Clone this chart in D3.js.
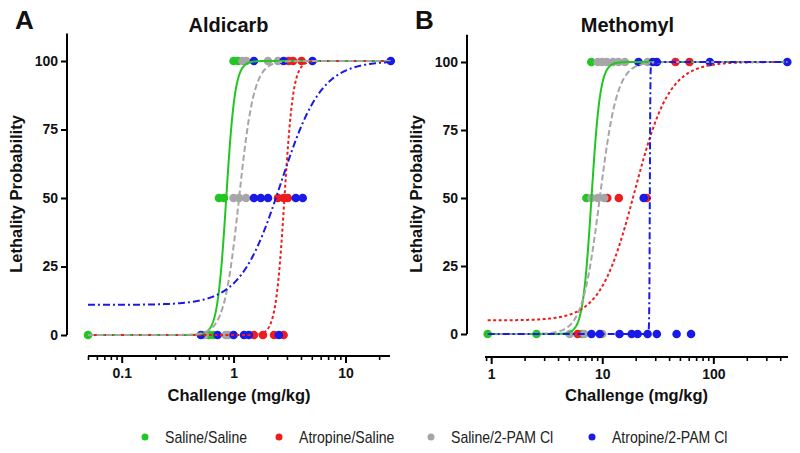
<!DOCTYPE html>
<html>
<head>
<meta charset="utf-8">
<script src="https://cdn.jsdelivr.net/npm/d3@7"></script>
<style>
  html, body { margin: 0; padding: 0; background: #fff; }
  svg { display: block; font-family: "Liberation Sans", Arial, sans-serif; }
</style>
</head>
<body>
<svg id="chart" width="800" height="453"></svg>
<script>
// ---------- DATA ----------
const groups = ["Saline/Saline", "Atropine/Saline", "Saline/2-PAM Cl", "Atropine/2-PAM Cl"];
const yTickValues = [0, 25, 50, 75, 100];

// Aldicarb observations: [dose mg/kg, lethality %]
const aldicarbSalineSaline = [[0.05,0],[0.6,0],[0.66,0],[0.74,50],[0.82,50],[1.0,100],[1.1,100]];
const aldicarbAtropineSaline = [[1.52,0],[1.83,0],[2.3,0],[2.8,0],[2.49,50],[2.8,50],[3.05,50],[3.1,100],[3.4,100],[4.05,100]];
const aldicarbSaline2PAM = [[0.55,0],[0.85,0],[0.9,0],[1.0,50],[1.12,50],[1.29,50],[1.2,100],[1.3,100],[2.03,100],[2.49,100]];
const aldicarbAtropine2PAM = [[0.51,0],[0.72,0],[1.0,0],[1.24,0],[1.37,0],[2.54,0],[1.52,50],[1.75,50],[2.03,50],[3.6,50],[4.15,50],[1.52,100],[2.8,100],[5.07,100],[25.4,100]];

// Methomyl observations
const methomylSalineSaline = [[0.93,0],[2.56,0],[6.6,0],[7.2,50],[7.96,100]];
const methomylAtropineSaline = [[6.0,0],[11.1,50],[14.1,50],[25.1,50],[45.6,100],[61,100]];
const methomylSaline2PAM = [[5.1,0],[6.9,0],[10,0],[8.0,50],[9.1,50],[10.4,50],[9.1,100],[10,100],[11,100],[12.5,100],[14,100],[16,100],[25.6,100]];
const methomylAtropine2PAM = [[8,0],[9.5,0],[14.3,0],[18.4,0],[20.8,0],[25.6,0],[31,0],[46.7,0],[63,0],[23.6,50],[21.2,100],[28.5,100],[31,100],[93,100],[463,100]];

// Fitted dose-response parameters: [bottom, top, EC50, Hill slope]
const aldicarbFits = [[0,100,0.86,11],[0,100,2.85,11],[0,100,1.12,6.5],[11,100,2.65,2.4]];
const methomylFits = [[0,100,8.0,11],[5,100,19.6,2.8],[0,100,9.5,5.5],[0,100,26.8,200]];

const aldicarbMajorTicks = [0.1, 1, 10];
const aldicarbMinorTicks = [0.05,0.06,0.07,0.08,0.09,0.2,0.3,0.4,0.5,0.6,0.7,0.8,0.9,2,3,4,5,6,7,8,9,20];
const methomylMajorTicks = [1, 10, 100];
const methomylMinorTicks = [0.9,2,3,4,5,6,7,8,9,20,30,40,50,60,70,80,90,200,300,400];

// ---------- STYLE ----------
const colors = ["#22c622", "#ee1d1d", "#a6a6a6", "#1a1ae8"];
const dashes = [null, "3,2.5", "6,3", "7,3,2,3"];

const svg = d3.select("#chart");

function panel(opts) {
  const g = svg.append("g");
  const x = d3.scaleLog().domain(opts.xDomain).range(opts.xRange);
  const y = d3.scaleLinear().domain([0, 110]).range([opts.y0, opts.y0 - (opts.y0 - opts.y100) * 1.1]);

  // y axis
  const yAxis = g.append("g").attr("transform", `translate(${opts.yAxisX},0)`)
    .call(d3.axisLeft(y).tickValues(yTickValues).tickSize(6).tickSizeOuter(0).tickPadding(3));
  yAxis.select(".domain").attr("stroke-width", 2).attr("d", `M0,${y(0)}V${y(110)}`);
  yAxis.selectAll(".tick line").attr("stroke-width", 2);
  yAxis.selectAll("text").attr("font-size", 14).attr("font-weight", "bold").attr("fill", "#111")
    .attr("font-family", "Liberation Sans, Arial, sans-serif");

  // x axis - minor
  const xMinor = g.append("g").attr("transform", `translate(0,${opts.xAxisY})`)
    .call(d3.axisBottom(x).tickValues(opts.minor).tickSize(4).tickSizeOuter(0).tickFormat(""));
  xMinor.select(".domain").remove();
  xMinor.selectAll(".tick line").attr("stroke-width", 1.6);
  // x axis - major
  const xMajor = g.append("g").attr("transform", `translate(0,${opts.xAxisY})`)
    .call(d3.axisBottom(x).tickValues(opts.major).tickSize(7).tickSizeOuter(0).tickPadding(5)
      .tickFormat(d => d < 1 ? String(d) : d3.format("d")(d)));
  xMajor.select(".domain").attr("stroke-width", 2).attr("d", `M${opts.xRange[0]},0H${opts.xRange[1]}`);
  xMajor.selectAll(".tick line").attr("stroke-width", 2);
  xMajor.selectAll("text").attr("font-size", 14).attr("font-weight", "bold").attr("fill", "#111")
    .attr("font-family", "Liberation Sans, Arial, sans-serif");

  // axis titles
  const cx = (opts.xRange[0] + opts.xRange[1]) / 2;
  g.append("text").attr("x", cx).attr("y", 401).attr("text-anchor", "middle")
    .attr("font-size", 16.5).attr("font-weight", "bold").attr("fill", "#111").text("Challenge (mg/kg)");
  g.append("text").attr("transform", `translate(${opts.yAxisX - 45},${(y(0) + y(100)) / 2 - 4}) rotate(-90)`)
    .attr("text-anchor", "middle").attr("font-size", 16.5).attr("font-weight", "bold").attr("fill", "#111")
    .text("Lethality Probability");
  g.append("text").attr("x", (opts.yAxisX + opts.xRange[1]) / 2).attr("y", 32).attr("text-anchor", "middle")
    .attr("font-size", 20).attr("font-weight", "bold").attr("fill", "#111").text(opts.title);
  g.append("text").attr("x", opts.yAxisX - 52).attr("y", 29)
    .attr("font-size", 26).attr("font-weight", "bold").attr("fill", "#111").text(opts.letter);

  // points
  opts.data.forEach((pts, i) => {
    g.append("g").selectAll("circle").data(pts).join("circle")
      .attr("cx", d => x(d[0])).attr("cy", d => y(d[1])).attr("r", 4.3)
      .attr("fill", colors[i]);
  });

  // fitted curves
  const allX = opts.data.flat().map(d => d[0]);
  const lo = Math.log10(d3.min(allX)), hi = Math.log10(d3.max(allX));
  const N = 800;
  opts.fits.forEach((f, i) => {
    const [bottom, top, ec50, h] = f;
    const pts = d3.range(N + 1).map(k => {
      const xv = Math.pow(10, lo + (hi - lo) * k / N);
      const yv = bottom + (top - bottom) / (1 + Math.pow(10, (Math.log10(ec50) - Math.log10(xv)) * h));
      return [xv, yv];
    });
    g.append("path").datum(pts)
      .attr("d", d3.line().x(d => x(d[0])).y(d => y(d[1])))
      .attr("fill", "none").attr("stroke", colors[i]).attr("stroke-width", 2)
      .attr("stroke-dasharray", dashes[i]);
  });
}

panel({
  title: "Aldicarb", letter: "A",
  xDomain: [0.05, 25], xRange: [88, 390], xAxisY: 356,
  yAxisX: 67, y0: 335, y100: 61,
  major: aldicarbMajorTicks, minor: aldicarbMinorTicks,
  data: [aldicarbSalineSaline, aldicarbAtropineSaline, aldicarbSaline2PAM, aldicarbAtropine2PAM],
  fits: aldicarbFits
});

panel({
  title: "Methomyl", letter: "B",
  xDomain: [0.88, 470], xRange: [485, 788], xAxisY: 357,
  yAxisX: 467, y0: 334, y100: 62,
  major: methomylMajorTicks, minor: methomylMinorTicks,
  data: [methomylSalineSaline, methomylAtropineSaline, methomylSaline2PAM, methomylAtropine2PAM],
  fits: methomylFits
});

// legend
const legendX = [145, 279, 431, 592];
const legend = svg.append("g");
groups.forEach((name, i) => {
  legend.append("circle").attr("cx", legendX[i]).attr("cy", 437).attr("r", 3.5).attr("fill", colors[i]);
  legend.append("text").attr("x", legendX[i] + 20).attr("y", 443)
    .attr("font-size", 16).attr("fill", "#222")
    .attr("transform", `translate(${(legendX[i] + 20) * (1 - 0.88)},0) scale(0.88,1)`)
    .text(name);
});
</script>
</body>
</html>
